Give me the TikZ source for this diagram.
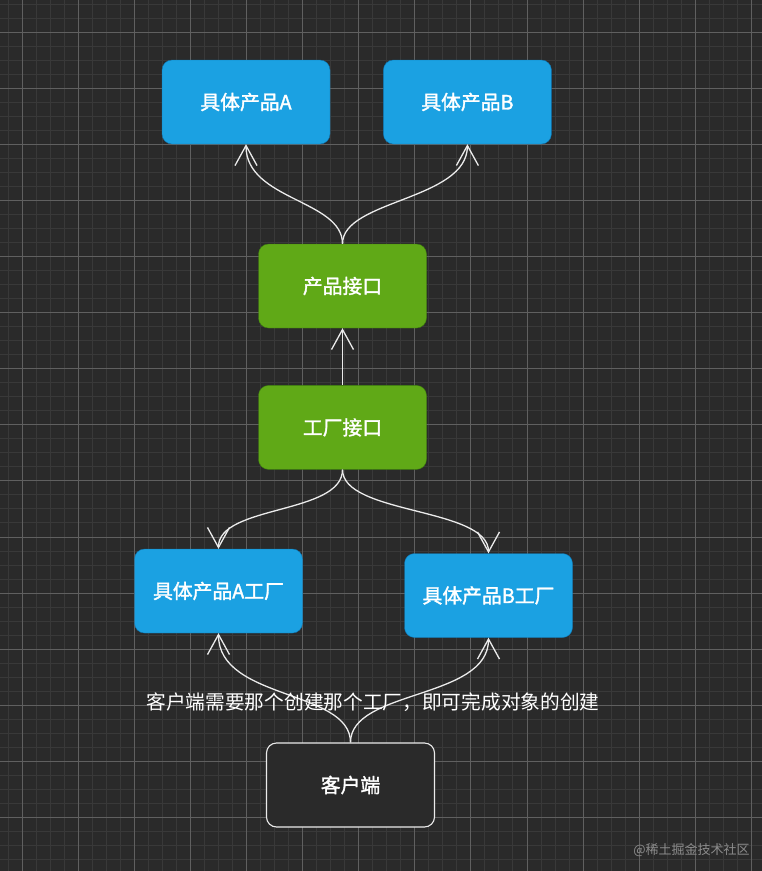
\documentclass[tikz,border=0pt]{standalone}
\usepackage{fontspec}
\setmainfont{Noto Sans CJK SC}
\newfontfamily\labelfont{Noto Sans CJK SC}[FakeBold=1.6]
\usepackage{tikz}
\usetikzlibrary{arrows.meta,positioning}
\definecolor{fblue}{HTML}{1BA1E2}
\definecolor{fblueline}{HTML}{0F74B0}
\definecolor{fgreen}{HTML}{60A917}
\definecolor{fgreenline}{HTML}{3D7F0E}
\definecolor{canvas}{HTML}{2A2A2A}
\definecolor{gridminor}{HTML}{393939}
\definecolor{gridmajor}{HTML}{606060}
\begin{document}
\begin{tikzpicture}[
  x=1pt, y=-1pt,
  box/.style={draw=fblueline, fill=fblue, rounded corners=10pt, align=center,
    minimum width=168pt, minimum height=84pt, text=white,
    font=\labelfont\fontsize{19.8}{24}\selectfont},
  gbox/.style={box, draw=fgreenline, fill=fgreen},
  cbox/.style={box, draw=white!92!black, fill=canvas, line width=1.1pt},
  arr/.style={-{Straight Barb[length=20pt, width=22pt]}, white!92!black, line width=1.3pt},
  lbl/.style={text=white, font=\fontsize{19.7}{24}\selectfont},
  minorline/.style={gridminor, line width=0.8pt},
  majorline/.style={gridmajor, line width=0.8pt},
]
\useasboundingbox (0,0) rectangle (762,871);
\fill[canvas] (0,0) rectangle (762,871);
\foreach \i in {0,...,53} \draw[minorline] ({7.975+14.025*\i},0) -- ++(0,871);
\foreach \j in {0,...,61} \draw[minorline] (0,{3.95+14.025*\j}) -- ++(762,0);
\foreach \i in {0,...,13} \draw[majorline] ({22+56.1*\i},0) -- ++(0,871);
\foreach \j in {0,...,14} \draw[majorline] (0,{32+56.1*\j}) -- ++(762,0);
% products
\node[box] (prodA) at (246,102) {具体产品A};
\node[box, right=53pt of prodA] (prodB) {具体产品B};
% interfaces
\node[gbox] (prodif) at (342.5,286) {产品接口};
\node[gbox, below=57pt of prodif] (factif) {工厂接口};
% factories
\node[box] (factA) at (218.5,591) {具体产品A工厂};
\node[box] (factB) at (488.5,595.5) {具体产品B工厂};
\node[cbox] (client) at (350.5,785) {客户端};
\foreach \s in {prodA,prodB}
  \draw[arr] (prodif.north) .. controls ++(0,-44) and ++(0,56) .. (\s.south);
\draw[arr] (factif.north) -- (prodif.south);
\draw[arr] (factif.south) .. controls ++(0,45) and ++(0,-44) .. (factA.north);
\draw[arr] (factif.south) .. controls ++(0,45) and ++(0,-46) .. (factB.north);
\draw[arr] (client.north) .. controls ++(0,-53) and ++(0,67) .. (factA.south);
\draw[arr] (client.north) .. controls ++(0,-53) and ++(0,62) .. (factB.south);
\node[lbl] (note) at (373,702) {客户端需要那个创建那个工厂，即可完成对象的创建};
\node[text=black!45, font=\fontsize{13}{15}\selectfont] (mark) at (691.5,850) {@稀土掘金技术社区};
\end{tikzpicture}
\end{document}
